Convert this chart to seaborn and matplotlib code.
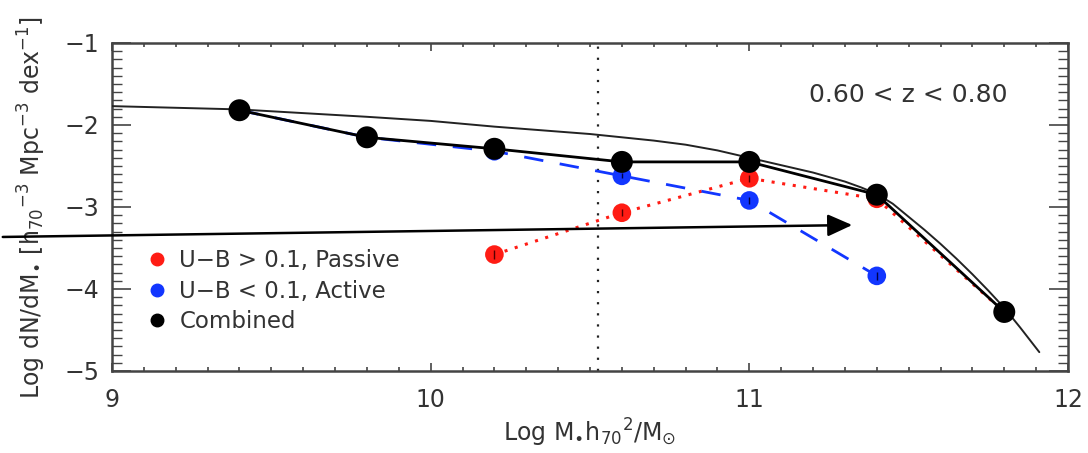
import numpy as np
import pandas as pd
import matplotlib
matplotlib.use("Agg")
import matplotlib.pyplot as plt
from matplotlib.lines import Line2D
from matplotlib.patches import FancyArrowPatch
from matplotlib.ticker import MultipleLocator
import seaborn as sns

# ---- data ----
comb_x = [9.4, 9.8, 10.2, 10.6, 11.0, 11.4, 11.8]
comb_y = [-1.82, -2.15, -2.29, -2.45, -2.45, -2.85, -4.28]

act_x = [9.4, 9.8, 10.2, 10.6, 11.0, 11.4]
act_y = [-1.82, -2.15, -2.32, -2.62, -2.92, -3.84]
act_err = [0.02, 0.02, 0.02, 0.03, 0.04, 0.05]

pas_x = [10.2, 10.6, 11.0, 11.4, 11.8]
pas_y = [-3.58, -3.07, -2.65, -2.90, -4.28]
pas_err = [0.06, 0.04, 0.04, 0.03, 0.05]

fit_x = [9.0, 9.4, 9.8, 10.0, 10.2, 10.5, 10.6, 10.7, 10.8, 10.9, 11.0, 11.1, 11.2, 11.3, 11.35,
         11.4, 11.45, 11.5, 11.55, 11.6, 11.65, 11.7, 11.75, 11.8, 11.85, 11.91]
fit_y = [-1.77, -1.81, -1.90, -1.95, -2.02, -2.11, -2.15, -2.19, -2.24, -2.31, -2.40, -2.49,
         -2.58, -2.69, -2.76, -2.84, -2.96, -3.12, -3.28, -3.45, -3.63, -3.82, -4.02, -4.23,
         -4.47, -4.77]

mass_limit = 10.525
legend_labels = ["U\u2212B > 0.1, Passive", "U\u2212B < 0.1, Active", "Combined"]
z_label = "0.60 < z < 0.80"

RED = "#ff1c14"
BLUE = "#1236ff"
TXT = "#333333"

sns.set_style("ticks")
plt.rcParams["font.family"] = ["DejaVu Sans"]
plt.rcParams["mathtext.fontset"] = "dejavusans"

fig = plt.figure(figsize=(10.88, 4.53), dpi=100)
ax = fig.add_axes([112 / 1088, 1 - 371 / 453, (1068 - 112) / 1088, (371 - 43) / 453])

df_fit = pd.DataFrame({"x": fit_x, "y": fit_y})
df_comb = pd.DataFrame({"x": comb_x, "y": comb_y})
df_act = pd.DataFrame({"x": act_x, "y": act_y})
df_pas = pd.DataFrame({"x": pas_x, "y": pas_y})

# fit curve
sns.lineplot(data=df_fit, x="x", y="y", ax=ax, color="#222222", lw=1.4, zorder=3)

# vertical mass limit
ax.axvline(mass_limit, color="#222222", ls=(0, (1, 4)), lw=1.6, zorder=1)

# passive (red dotted)
sns.lineplot(data=df_pas, x="x", y="y", ax=ax, color=RED, lw=2.2, ls=(0, (1, 2.5)), zorder=4)
ax.errorbar(pas_x, pas_y, yerr=pas_err, fmt="none", ecolor="#550000", elinewidth=1.0, zorder=6)
sns.scatterplot(data=df_pas, x="x", y="y", ax=ax, color=RED, s=180, edgecolor="none", zorder=5)

# active (blue dashed)
sns.lineplot(data=df_act, x="x", y="y", ax=ax, color=BLUE, lw=2.0, ls=(0, (7, 6)), zorder=4)
sns.scatterplot(data=df_act, x="x", y="y", ax=ax, color=BLUE, s=180, edgecolor="none", zorder=5)
ax.errorbar(act_x, act_y, yerr=act_err, fmt="none", ecolor="#000044", elinewidth=1.0, zorder=6)

# combined
sns.lineplot(data=df_comb, x="x", y="y", ax=ax, color="black", lw=2.0, zorder=7)
sns.scatterplot(data=df_comb, x="x", y="y", ax=ax, color="black", s=250, edgecolor="none", zorder=8)

ax.set_xlim(9, 12)
ax.set_ylim(-5, -1)
ax.set_xticks([9, 10, 11, 12])
ax.set_yticks([-5, -4, -3, -2, -1])
ax.set_yticklabels(["\u22125", "\u22124", "\u22123", "\u22122", "\u22121"])
ax.xaxis.set_minor_locator(MultipleLocator(0.1))
ax.yaxis.set_minor_locator(MultipleLocator(0.1))
ax.tick_params(which="both", direction="in", top=True, right=True, colors="#444444",
               labelcolor=TXT, labelsize=17)
ax.tick_params(axis="x", which="major", length=6, width=1.2, pad=12)
ax.tick_params(axis="x", which="minor", length=3, width=1.2)
ax.tick_params(axis="y", which="major", length=14, width=1.2, pad=9)
ax.tick_params(axis="y", which="minor", length=7, width=1.0)
for sp in ax.spines.values():
    sp.set_color("#444444")
    sp.set_linewidth(1.8)

ax.set_xlabel(r"Log M$_{\bullet}$h$_{70}$$^{2}$/M$_{\odot}$", fontsize=17, color=TXT, labelpad=4)
ax.set_ylabel(r"Log dN/dM$_{\bullet}$ [h$_{70}$$^{-3}$ Mpc$^{-3}$ dex$^{-1}$]", fontsize=17,
              color=TXT, labelpad=12)

ax.text(11.5, -1.63, z_label, fontsize=18, color=TXT, ha="center", va="center")

handles = [
    Line2D([], [], ls="none", marker="o", color=RED, markersize=9),
    Line2D([], [], ls="none", marker="o", color=BLUE, markersize=9),
    Line2D([], [], ls="none", marker="o", color="black", markersize=9),
]
leg = ax.legend(handles, legend_labels, loc="upper left", bbox_to_anchor=(0.025, 0.40),
                frameon=False, fontsize=16.5, handletextpad=0.5, labelspacing=0.33,
                handlelength=1.0, borderaxespad=0)
for t in leg.get_texts():
    t.set_color(TXT)

# arrow annotation across the figure
arr = FancyArrowPatch((0, 1 - 237 / 453), (855 / 1088, 1 - 225 / 453),
                      transform=fig.transFigure, arrowstyle="-|>,head_length=1.0,head_width=0.45",
                      mutation_scale=15, color="black", lw=1.8, zorder=20)
fig.patches.append(arr)

fig.savefig("out.png", dpi=100)
